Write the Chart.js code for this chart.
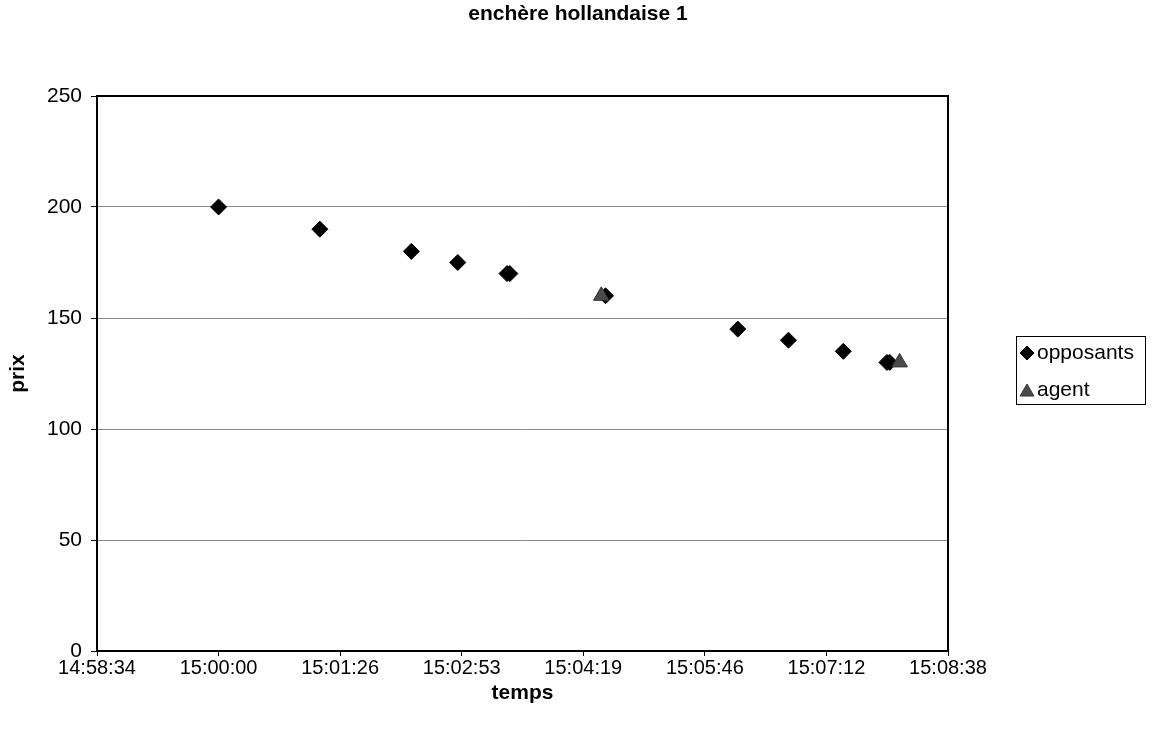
<!DOCTYPE html>
<html>
<head>
<meta charset="utf-8">
<script src="https://cdn.jsdelivr.net/npm/chart.js@4/dist/chart.umd.min.js"></script>
<style>
  html, body { margin: 0; padding: 0; background: #fff; }
  #wrap { width: 1156px; height: 731px; }
</style>
</head>
<body>
<div id="wrap"><canvas id="chart" width="1156" height="731"></canvas></div>
<script>
// Data (time of bid -> price)
const opposantsTimes = ['15:00:00', '15:01:12', '15:02:17', '15:02:50', '15:03:25', '15:03:27',
                        '15:04:35', '15:06:09', '15:06:45', '15:07:24', '15:07:55', '15:07:57'];
const opposantsPrices = [200, 190, 180, 175, 170, 170, 160, 145, 140, 135, 130, 130];

const agentTimes = ['15:04:32', '15:08:04'];
const agentPrices = [160, 130];

const xTickLabels = ['14:58:34', '15:00:00', '15:01:26', '15:02:53', '15:04:19', '15:05:46', '15:07:12', '15:08:38'];
const yTickLabels = [0, 50, 100, 150, 200, 250];

// x axis is in fractions of a day, like a spreadsheet
const xMin = 0.624;
const xStep = 0.001;

function toDay(t) {
  const p = t.split(':').map(Number);
  return (p[0] * 3600 + p[1] * 60 + p[2]) / 86400;
}

function toPoints(times, prices) {
  return times.map((t, i) => ({x: toDay(t), y: prices[i]}));
}

const FONT = "'Liberation Sans', Arial, sans-serif";

// frame around the plot area
const frame = {
  id: 'frame',
  beforeDatasetsDraw(chart) {
    const {ctx, chartArea: a} = chart;
    ctx.save();
    ctx.strokeStyle = '#000';
    ctx.lineWidth = 2;
    ctx.strokeRect(a.left, a.top, a.right - a.left, a.bottom - a.top);
    ctx.restore();
  }
};

// boxed legend to the right, like the original
const boxLegend = {
  id: 'boxLegend',
  afterDraw(chart) {
    const ctx = chart.ctx;
    const box = {x: 1016, y: 336, w: 129, h: 68};
    ctx.save();
    ctx.strokeStyle = '#000';
    ctx.lineWidth = 1;
    ctx.strokeRect(box.x + 0.5, box.y + 0.5, box.w, box.h);
    ctx.font = '21px ' + FONT;
    ctx.textBaseline = 'middle';
    ctx.textAlign = 'left';
    chart.data.datasets.forEach((ds, i) => {
      const cy = box.y + 17 + i * 37;
      const tri = ds.pointStyle === 'triangle';
      ctx.fillStyle = ds.backgroundColor;
      ctx.strokeStyle = ds.borderColor;
      Chart.helpers.drawPoint(ctx, {pointStyle: ds.pointStyle, radius: tri ? 8 : 7, rotation: 0, borderWidth: 1}, box.x + 11, cy + (tri ? 2 : 0));
      ctx.fillStyle = '#000';
      ctx.fillText(ds.label, box.x + 21, cy);
    });
    ctx.restore();
  }
};

new Chart(document.getElementById('chart'), {
  type: 'scatter',
  data: {
    datasets: [
      {
        label: 'opposants',
        data: toPoints(opposantsTimes, opposantsPrices),
        order: 1,
        pointStyle: 'rectRot',
        pointRadius: 8,
        pointHoverRadius: 8,
        backgroundColor: '#000',
        borderColor: '#000',
        borderWidth: 1
      },
      {
        label: 'agent',
        data: toPoints(agentTimes, agentPrices),
        order: 0,
        pointStyle: 'triangle',
        pointRadius: 9,
        pointHoverRadius: 9,
        backgroundColor: '#4a4a4a',
        borderColor: '#333',
        borderWidth: 1
      }
    ]
  },
  options: {
    responsive: false,
    animation: false,
    layout: { padding: 0 },
    plugins: {
      legend: { display: false },
      tooltip: { enabled: false },
      title: {
        display: true,
        text: 'enchère hollandaise 1',
        color: '#000',
        font: { family: FONT, size: 21, weight: 'bold' },
        padding: { top: 2, bottom: 68.8 }
      }
    },
    scales: {
      x: {
        type: 'linear',
        min: xMin,
        max: xMin + xStep * (xTickLabels.length - 1),
        afterBuildTicks(axis) {
          axis.ticks = xTickLabels.map((l, i) => ({value: xMin + i * xStep}));
        },
        afterFit(scale) { scale.height = 80; },
        border: { display: false },
        grid: { drawOnChartArea: false, drawTicks: true, tickLength: 5, tickColor: '#000', tickWidth: 1 },
        ticks: {
          color: '#000',
          font: { family: FONT, size: 20 },
          padding: 0,
          maxRotation: 0,
          autoSkip: false,
          callback: (v, i) => xTickLabels[i]
        },
        title: {
          display: true,
          text: 'temps',
          color: '#000',
          font: { family: FONT, size: 21, weight: 'bold' },
          padding: { top: 0, bottom: 25 }
        }
      },
      y: {
        min: yTickLabels[0],
        max: yTickLabels[yTickLabels.length - 1],
        afterBuildTicks(axis) {
          axis.ticks = yTickLabels.map(v => ({value: v}));
        },
        afterFit(scale) { scale.width = 97; },
        border: { display: false },
        grid: { color: '#8a8a8a', lineWidth: 1, drawTicks: true, tickLength: 6, tickColor: '#000' },
        ticks: {
          color: '#000',
          font: { family: FONT, size: 21 },
          padding: 9
        },
        title: {
          display: true,
          text: 'prix',
          color: '#000',
          font: { family: FONT, size: 21, weight: 'bold' },
          padding: { top: 5.4, bottom: 0 }
        }
      },
      // empty right-hand strip that holds the legend, keeps the title centred on the page
      side: {
        axis: 'y',
        type: 'linear',
        position: 'right',
        afterFit(scale) { scale.width = 208; },
        border: { display: false },
        grid: { display: false },
        ticks: { display: false }
      }
    }
  },
  plugins: [frame, boxLegend]
});
</script>
</body>
</html>
